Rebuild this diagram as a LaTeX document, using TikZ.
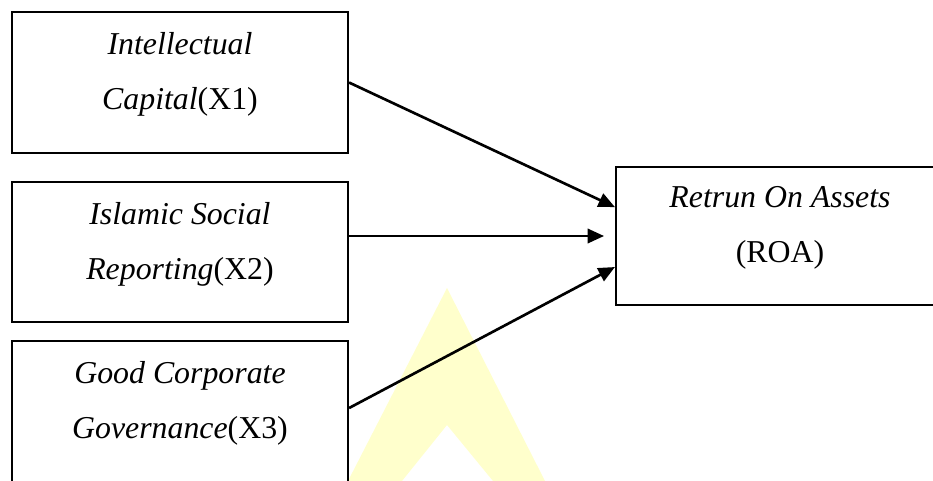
\documentclass[tikz,border=0pt]{standalone}
\usepackage{fontspec}
\setmainfont{Liberation Serif}
\usetikzlibrary{arrows.meta}
\definecolor{wmyellow}{RGB}{255,255,204}

\begin{document}
\begin{tikzpicture}[x=0.377pt, y=-0.377pt,
  vbox/.style={draw, line width=0.75pt, inner sep=0pt,
               minimum width=126.7pt, minimum height=53pt},
  vtext/.style={align=center, inner sep=0pt,
                font=\fontsize{12}{20.7}\selectfont},
  arr/.style={-{Triangle[length=6.2pt, width=5.4pt]}, line width=1pt}]
  \clip (0,0) rectangle (933,481);

  % watermark
  \fill[wmyellow] (348,481) -- (447,288) -- (545,481) -- (493,481)
    -- (447,425) -- (402,481) -- cycle;

  % LEFT stack: X1, X2, X3
  \node[vbox] (ic) at (180,82.5) {};
  \node[vtext] (ic-t) at ([yshift=3pt]ic.center)
    {{\itshape Intellectual}\\{\itshape Capital}(X1)};
  \node[vbox] (isr) at (180,252) {};
  \node[vtext] (isr-t) at ([yshift=3pt]isr.center)
    {{\itshape Islamic Social}\\{\itshape Reporting}(X2)};
  \node[vbox] (gcg) at (180,411.5) {};
  \node[vtext] (gcg-t) at ([yshift=3pt]gcg.center)
    {{\itshape Good Corporate}\\{\itshape Governance}(X3)};

  % RIGHT: Y
  \node[vbox, minimum width=123.7pt, minimum height=52pt] (roa) at (780,236) {};
  \node[vtext] (roa-t) at ([yshift=3pt]roa.center)
    {{\itshape Retrun On Assets}\\(ROA)};

  % arrows
  \draw[arr] (ic.east) -- ([yshift=10.9pt]roa.west);
  \draw[arr] (isr.east |- roa.west) -- ([xshift=-4.1pt]roa.west);
  \draw[arr] ([yshift=1.3pt]gcg.east) -- ([yshift=-11.7pt]roa.west);
\end{tikzpicture}
\end{document}
